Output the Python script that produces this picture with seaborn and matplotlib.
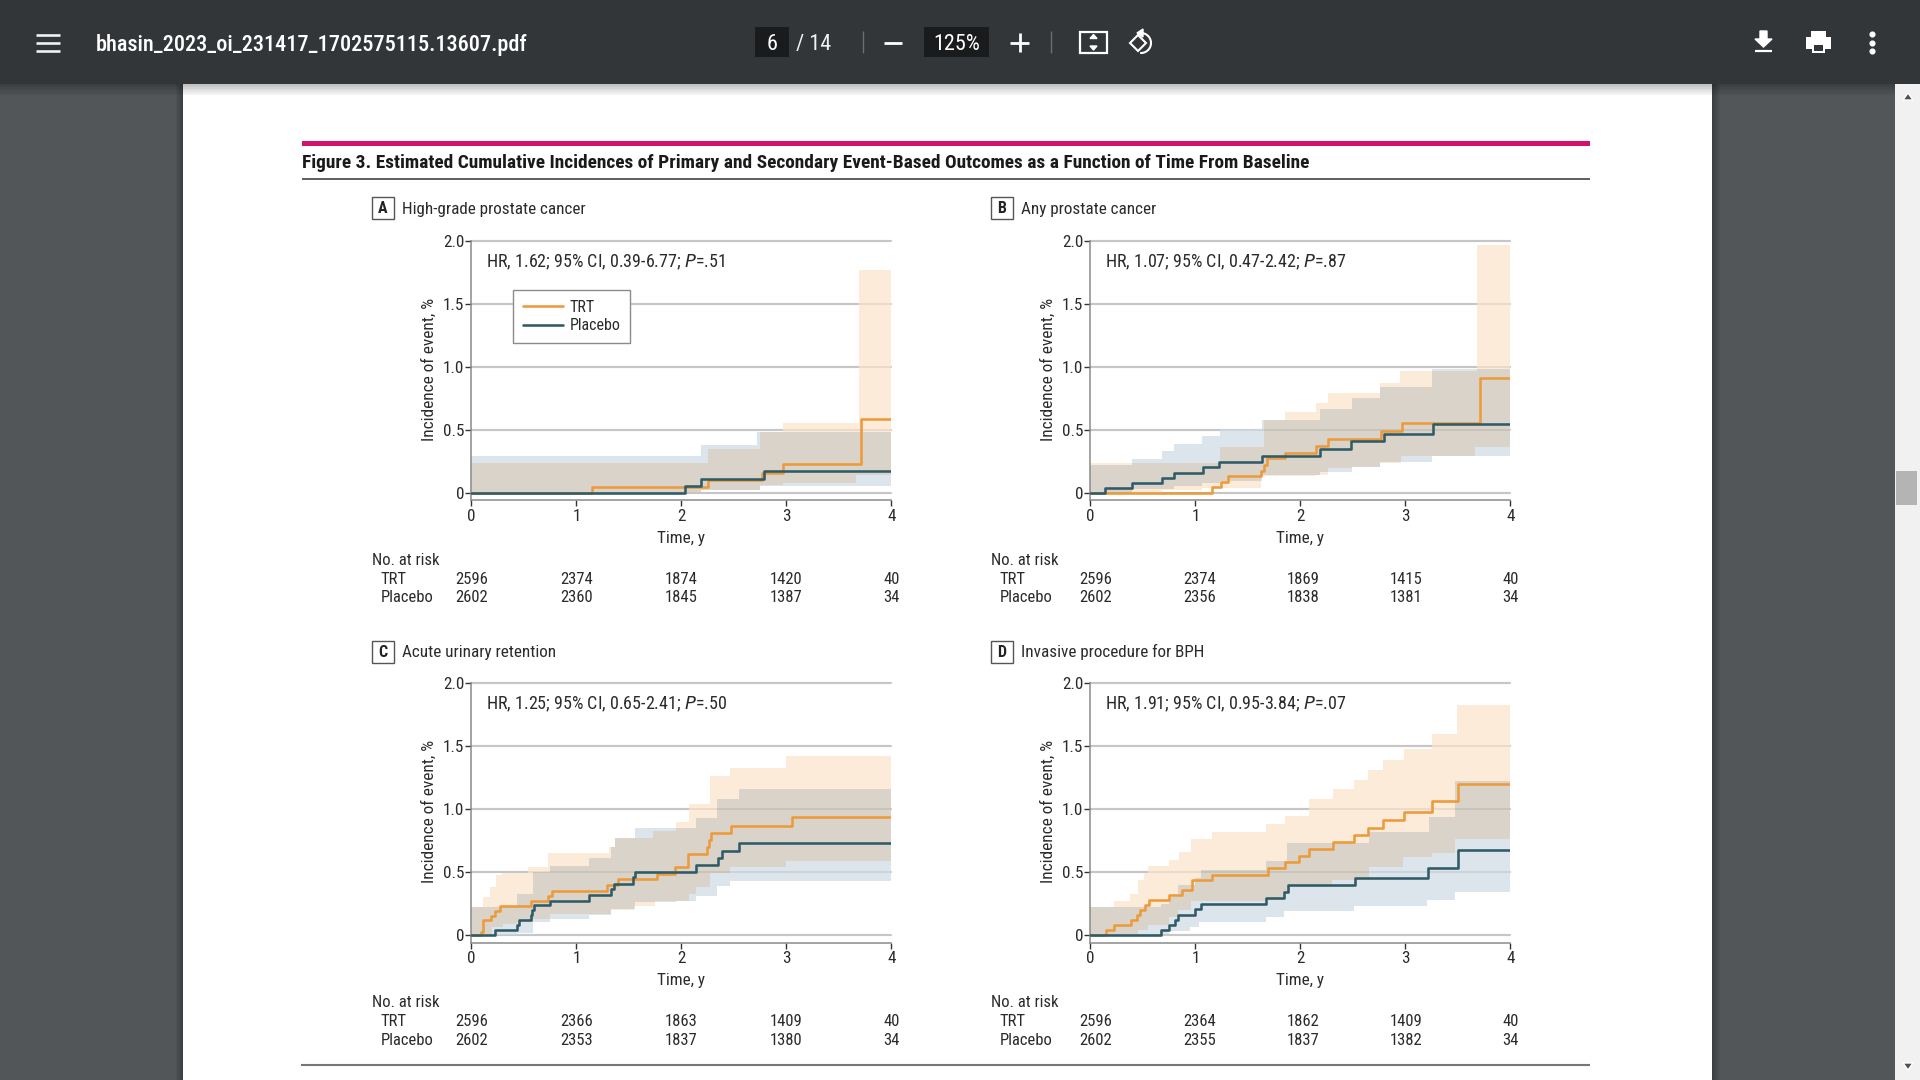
# plot.py
# Figure 3 (cumulative incidence panels) inside a PDF viewer screenshot

import numpy as np
import pandas as pd
import matplotlib
matplotlib.use("Agg")
import matplotlib.pyplot as plt
from matplotlib.patches import Rectangle, Polygon, Arc
import seaborn as sns

# ── Data: step curves (time in years, incidence in %) ──────
a_trt_t = [0, 1.15, 2.255, 2.765, 2.97, 3.71, 4]
a_trt_y = [0, 0.045, 0.10, 0.16, 0.225, 0.583, 0.583]
a_pla_t = [0, 2.035, 2.19, 2.79, 4]
a_pla_y = [0, 0.055, 0.11, 0.17, 0.17]
a_trt_up_t = [0, 2.255, 2.75, 2.97, 3.69, 4]
a_trt_up_y = [0.24, 0.345, 0.48, 0.556, 1.77, 1.77]
a_trt_lo_t = [0, 2.19, 2.75, 2.97, 3.66, 4]
a_trt_lo_y = [0, 0.02, 0.06, 0.08, 0.14, 0.14]
a_pla_up_t = [0, 2.19, 2.72, 4]
a_pla_up_y = [0.295, 0.376, 0.485, 0.485]
a_pla_lo_t = [0, 2.19, 2.75, 4]
a_pla_lo_y = [0, 0.02, 0.053, 0.053]

b_trt_t = [0, 1.16, 1.245, 1.31, 1.62, 1.655, 1.68, 1.857, 2.153, 2.26, 2.765, 2.97, 3.71, 4]
b_trt_y = [0, 0.045, 0.087, 0.132, 0.175, 0.22, 0.273, 0.318, 0.37, 0.43, 0.49, 0.556, 0.91, 0.91]
b_pla_t = [0, 0.14, 0.40, 0.684, 0.796, 1.075, 1.228, 1.63, 2.19, 2.486, 2.8, 3.26, 4]
b_pla_y = [0, 0.04, 0.08, 0.12, 0.16, 0.204, 0.244, 0.29, 0.35, 0.408, 0.466, 0.55, 0.55]
b_trt_up_t = [0, 1.23, 1.65, 1.857, 2.153, 2.26, 2.76, 2.95, 3.68, 4]
b_trt_up_y = [0.238, 0.36, 0.58, 0.638, 0.715, 0.79, 0.875, 0.97, 1.97, 1.97]
b_trt_lo_t = [0, 0.68, 1.06, 1.62, 2.15, 2.26, 2.49, 2.76, 2.96, 3.66, 4]
b_trt_lo_y = [0, 0.02, 0.035, 0.13, 0.14, 0.20, 0.207, 0.24, 0.29, 0.36, 0.36]
b_pla_up_t = [0, 0.40, 0.686, 0.80, 1.06, 1.23, 1.63, 2.19, 2.49, 2.76, 3.25, 4]
b_pla_up_y = [0.22, 0.27, 0.33, 0.39, 0.45, 0.51, 0.58, 0.665, 0.755, 0.84, 0.98, 0.98]
b_pla_lo_t = [0, 0.40, 0.80, 1.06, 1.23, 1.63, 2.19, 2.49, 2.76, 3.25, 4]
b_pla_lo_y = [0, 0.03, 0.05, 0.08, 0.095, 0.14, 0.165, 0.205, 0.245, 0.29, 0.29]

c_trt_t = [0, 0.092, 0.114, 0.187, 0.225, 0.273, 0.565, 0.733, 0.77, 1.295, 1.394, 1.77, 1.94, 2.06, 2.248, 2.265, 2.28, 2.476, 3.054, 4]
c_trt_y = [0, 0.026, 0.12, 0.15, 0.193, 0.23, 0.273, 0.313, 0.352, 0.40, 0.442, 0.485, 0.54, 0.644, 0.70, 0.755, 0.813, 0.87, 0.935, 0.935]
c_pla_t = [0, 0.225, 0.432, 0.457, 0.565, 0.58, 0.594, 0.75, 1.12, 1.33, 1.36, 1.543, 1.56, 2.143, 2.35, 2.384, 2.544, 4]
c_pla_y = [0, 0.04, 0.077, 0.12, 0.16, 0.20, 0.236, 0.27, 0.318, 0.363, 0.403, 0.458, 0.50, 0.556, 0.61, 0.67, 0.728, 0.728]
c_trt_up_t = [0, 0.11, 0.18, 0.23, 0.29, 0.54, 0.733, 1.31, 1.37, 1.73, 1.95, 2.07, 2.27, 2.466, 3.0, 4]
c_trt_up_y = [0.22, 0.305, 0.38, 0.477, 0.49, 0.543, 0.654, 0.70, 0.768, 0.83, 0.90, 1.04, 1.26, 1.33, 1.42, 1.42]
c_trt_lo_t = [0, 0.10, 0.20, 0.30, 0.43, 0.59, 0.75, 1.33, 1.55, 1.75, 2.07, 2.14, 2.27, 2.466, 3.0, 4]
c_trt_lo_y = [0, 0.01, 0.066, 0.09, 0.10, 0.13, 0.17, 0.20, 0.23, 0.27, 0.33, 0.385, 0.49, 0.538, 0.588, 0.588]
c_pla_up_t = [0, 0.43, 0.59, 0.75, 1.12, 1.33, 1.37, 1.56, 2.14, 2.34, 2.544, 4]
c_pla_up_y = [0.22, 0.33, 0.50, 0.55, 0.61, 0.70, 0.77, 0.85, 0.927, 1.08, 1.158, 1.158]
c_pla_lo_t = [0, 0.43, 0.59, 0.75, 1.12, 1.33, 1.56, 1.95, 2.14, 2.34, 2.46, 4]
c_pla_lo_y = [0, 0.015, 0.105, 0.125, 0.16, 0.21, 0.265, 0.27, 0.31, 0.39, 0.432, 0.432]

d_trt_t = [0, 0.146, 0.22, 0.387, 0.448, 0.473, 0.52, 0.56, 0.75, 0.87, 0.965, 1.156, 1.687, 1.857, 1.986, 2.085, 2.31, 2.514, 2.646, 2.786, 2.99, 3.25, 3.5, 4]
d_trt_y = [0, 0.04, 0.08, 0.12, 0.16, 0.20, 0.236, 0.278, 0.318, 0.358, 0.437, 0.48, 0.53, 0.577, 0.628, 0.68, 0.74, 0.797, 0.853, 0.914, 0.98, 1.065, 1.203, 1.203]
d_pla_t = [0, 0.673, 0.752, 0.806, 0.83, 0.997, 1.054, 1.673, 1.84, 1.884, 2.52, 3.218, 3.497, 4]
d_pla_y = [0, 0.04, 0.08, 0.12, 0.16, 0.204, 0.246, 0.297, 0.344, 0.395, 0.456, 0.53, 0.675, 0.675]
d_trt_up_t = [0, 0.22, 0.38, 0.45, 0.51, 0.553, 0.745, 0.84, 0.96, 1.156, 1.67, 1.857, 2.08, 2.31, 2.514, 2.646, 2.786, 2.99, 3.25, 3.49, 4]
d_trt_up_y = [0.22, 0.27, 0.33, 0.437, 0.495, 0.55, 0.596, 0.66, 0.76, 0.82, 0.88, 0.945, 1.08, 1.16, 1.232, 1.31, 1.39, 1.478, 1.60, 1.825, 1.825]
d_trt_lo_t = [0, 0.38, 0.45, 0.55, 0.75, 0.83, 0.96, 1.67, 1.84, 1.90, 2.30, 2.65, 2.98, 3.25, 3.47, 4]
d_trt_lo_y = [0, 0.0, 0.04, 0.08, 0.14, 0.20, 0.27, 0.28, 0.33, 0.38, 0.44, 0.538, 0.62, 0.65, 0.763, 0.763]
d_pla_up_t = [0, 0.67, 0.75, 0.83, 1.0, 1.05, 1.67, 1.875, 2.65, 3.22, 3.47, 4]
d_pla_up_y = [0.22, 0.25, 0.30, 0.40, 0.45, 0.515, 0.59, 0.73, 0.816, 0.94, 1.227, 1.227]
d_pla_lo_t = [0, 0.67, 0.75, 0.95, 1.03, 1.67, 1.84, 2.51, 3.21, 3.47, 4]
d_pla_lo_y = [0, 0.01, 0.03, 0.066, 0.10, 0.146, 0.193, 0.233, 0.278, 0.344, 0.344]

# ── Data: labels ───────────────────────────────────────────
panel_letters = ["A", "B", "C", "D"]
panel_titles = ["High-grade prostate cancer", "Any prostate cancer",
                "Acute urinary retention", "Invasive procedure for BPH"]
hr_texts = ["HR, 1.62; 95% CI, 0.39-6.77; $\\mathit{P}$=.51",
            "HR, 1.07; 95% CI, 0.47-2.42; $\\mathit{P}$=.87",
            "HR, 1.25; 95% CI, 0.65-2.41; $\\mathit{P}$=.50",
            "HR, 1.91; 95% CI, 0.95-3.84; $\\mathit{P}$=.07"]
risk_trt = [["2596", "2374", "1874", "1420", "40"],
            ["2596", "2374", "1869", "1415", "40"],
            ["2596", "2366", "1863", "1409", "40"],
            ["2596", "2364", "1862", "1409", "40"]]
risk_pla = [["2602", "2360", "1845", "1387", "34"],
            ["2602", "2356", "1838", "1381", "34"],
            ["2602", "2353", "1837", "1380", "34"],
            ["2602", "2355", "1837", "1382", "34"]]
x_ticks = [0, 1, 2, 3, 4]
y_ticks = [0, 0.5, 1.0, 1.5, 2.0]
y_tick_labels = ["0", "0.5", "1.0", "1.5", "2.0"]
figure_title = "Figure 3. Estimated Cumulative Incidences of Primary and Secondary Event-Based Outcomes as a Function of Time From Baseline"
file_name = "bhasin_2023_oi_231417_1702575115.13607.pdf"

curves = {
    "A": [(a_trt_t, a_trt_y), (a_pla_t, a_pla_y), (a_trt_up_t, a_trt_up_y), (a_trt_lo_t, a_trt_lo_y), (a_pla_up_t, a_pla_up_y), (a_pla_lo_t, a_pla_lo_y)],
    "B": [(b_trt_t, b_trt_y), (b_pla_t, b_pla_y), (b_trt_up_t, b_trt_up_y), (b_trt_lo_t, b_trt_lo_y), (b_pla_up_t, b_pla_up_y), (b_pla_lo_t, b_pla_lo_y)],
    "C": [(c_trt_t, c_trt_y), (c_pla_t, c_pla_y), (c_trt_up_t, c_trt_up_y), (c_trt_lo_t, c_trt_lo_y), (c_pla_up_t, c_pla_up_y), (c_pla_lo_t, c_pla_lo_y)],
    "D": [(d_trt_t, d_trt_y), (d_pla_t, d_pla_y), (d_trt_up_t, d_trt_up_y), (d_trt_lo_t, d_trt_lo_y), (d_pla_up_t, d_pla_up_y), (d_pla_lo_t, d_pla_lo_y)],
}

# ── Colours ────────────────────────────────────────────────
TRT = "#EC9A3A"
PLACEBO = "#2F5B66"
TRT_BAND = "#FDEBDA"
PLACEBO_BAND = "#DBE5EB"
BOTH_BAND = "#D9D3C9"
TEXT = "#2b2b2b"
GRID = "#d6d6d6"
VIEWER = "#525659"
BAR = "#323639"

# ── Pixel layout of the screenshot ─────────────────────────
W, H = 1920, 1080
COL_X = [471.4, 1090.4]
ROW_Y = [241.0, 683.3]
AX_W, AX_H = 420.0, 259.3   # y=2.0 down to the x axis line
Y_BOTTOM = -0.06

sns.set_theme(style="white")
FONT = ["Liberation Sans Narrow", "Roboto Condensed", "Liberation Sans"]
plt.rcParams["font.family"] = FONT
plt.rcParams["mathtext.fontset"] = "custom"
plt.rcParams["mathtext.rm"] = "Liberation Sans Narrow"
plt.rcParams["mathtext.it"] = "Liberation Sans Narrow:italic"
plt.rcParams["mathtext.bf"] = "Liberation Sans Narrow:bold"
plt.rcParams["text.color"] = TEXT

fig = plt.figure(figsize=(W / 100, H / 100), dpi=100, facecolor=VIEWER)

# ── Background axes in screen pixels ───────────────────────
bg = fig.add_axes([0, 0, 1, 1], zorder=0)
bg.set_xlim(0, W)
bg.set_ylim(H, 0)
bg.axis("off")


def rect(x0, y0, x1, y1, **kw):
    kw.setdefault("linewidth", 0)
    bg.add_patch(Rectangle((x0, y0), x1 - x0, y1 - y0, **kw))


def seg(xs, ys, color, lw):
    bg.plot(xs, ys, color=color, lw=lw, solid_capstyle="butt", solid_joinstyle="miter")


# page, page shadow, scrollbar
rect(0, 0, W, H, facecolor=VIEWER)
for i in range(6):
    rect(183 - i * 1.5, 84, 183, H, facecolor="black", alpha=0.05)
    rect(1712, 84, 1712 + i * 1.5, H, facecolor="black", alpha=0.05)
rect(183, 84, 1712, H, facecolor="white")
rect(1895, 84, W, H, facecolor="#f1f1f1")
rect(1896, 471, 1917, 505, facecolor="#b4b4b4")
bg.add_patch(Polygon([[1903, 100], [1913, 100], [1908, 93]], facecolor="#505050"))
bg.add_patch(Polygon([[1903, 1063], [1913, 1063], [1908, 1070]], facecolor="#505050"))

# toolbar + its shadow
for i in range(7):
    rect(0, 84, 1895, 84 + (i + 1) * 1.6, facecolor="black", alpha=0.035)
rect(0, 0, W, 84, facecolor=BAR)
for y in (34.5, 42.5, 50.5):
    seg([36, 60], [y, y], "#f1f1f1", 1.9)
bg.text(96, 45, file_name, color="white", fontsize=16, ha="left", va="center", fontweight="medium")
rect(755, 27, 789, 57, facecolor="#191b1c")
bg.text(772, 44, "6", color="white", fontsize=16, ha="center", va="center")
bg.text(796, 44.5, "/ 14", color="#f1f1f1", fontsize=16, ha="left", va="center")
seg([863, 863], [31, 53], "#6b6e71", 1.0)
seg([884, 902], [42.5, 42.5], "white", 2.0)
rect(924, 27, 989, 57, facecolor="#191b1c")
bg.text(957, 45, "125%", color="white", fontsize=16, ha="center", va="center")
seg([1010, 1029], [42.5, 42.5], "white", 2.0)
seg([1019.5, 1019.5], [33, 52], "white", 2.0)
seg([1050.5, 1050.5], [31, 53], "#6b6e71", 1.0)
# fit-to-page icon
bg.add_patch(Rectangle((1080, 31.5), 27, 21.5, fill=False, edgecolor="white", linewidth=1.6))
bg.add_patch(Polygon([[1090, 38.5], [1097, 38.5], [1093.5, 34.5]], facecolor="white"))
bg.add_patch(Polygon([[1090, 46], [1097, 46], [1093.5, 50]], facecolor="white"))
# rotate icon
bg.add_patch(Polygon([[1130, 43], [1138, 35], [1146, 43], [1138, 51]], fill=False, edgecolor="white", linewidth=1.5))
bg.add_patch(Arc((1141, 43), 20, 20, theta1=-110, theta2=95, edgecolor="white", linewidth=1.5))
bg.add_patch(Polygon([[1143, 29], [1137, 33], [1143, 37]], facecolor="white"))
# download icon
bg.add_patch(Polygon([[1760, 31], [1767, 31], [1767, 39], [1772, 39], [1763.5, 47], [1755, 39], [1760, 39]], facecolor="white"))
seg([1755, 1772], [51, 51], "white", 1.6)
# print icon
rect(1811, 31, 1826, 37, facecolor="white")
rect(1806, 37, 1831, 49, facecolor="white")
rect(1812, 44, 1825, 53, facecolor="white")
rect(1814, 45, 1823, 51, facecolor=BAR)
# menu dots
for y in (34, 42.5, 50.5):
    bg.plot([1872], [y], "o", color="white", markersize=3.4)

# figure heading
rect(302, 141, 1590, 145.5, facecolor="#D5126A")
bg.text(302, 162.5, figure_title, fontsize=13.95, fontweight="bold", ha="left", va="center", color="#1a1a1a")
seg([302, 1590], [179, 179], "#333333", 1.1)
seg([301, 1590], [1065, 1065], "#777777", 1.5)


def step_at(t, y, grid):
    idx = np.searchsorted(t, grid, side="right") - 1
    return np.asarray(y)[np.clip(idx, 0, len(y) - 1)]


def draw_panel(i):
    letter = panel_letters[i]
    (tt, ty), (pt, py), (tut, tuy), (tlt, tly), (put, puy), (plt_, ply) = curves[letter]
    col, row = i % 2, i // 2
    x0, y0 = COL_X[col], ROW_Y[row]

    ax = fig.add_axes([x0 / W, 1 - (y0 + AX_H) / H, AX_W / W, AX_H / H], zorder=2)
    ax.patch.set_alpha(0)

    # confidence bands, the overlap gets its own darker tone
    grid = np.array(sorted(set(tut) | set(tlt) | set(put) | set(plt_)))
    tu, tl = step_at(tut, tuy, grid), step_at(tlt, tly, grid)
    pu, pl = step_at(put, puy, grid), step_at(plt_, ply, grid)
    ax.fill_between(grid, pl, pu, step="post", color=PLACEBO_BAND, lw=0, zorder=1)
    ax.fill_between(grid, tl, tu, step="post", color=TRT_BAND, lw=0, zorder=1.1)
    lo, up = np.maximum(tl, pl), np.minimum(tu, pu)
    ax.fill_between(grid, lo, np.maximum(lo, up), step="post", color=BOTH_BAND, lw=0, zorder=1.2)

    for v in y_ticks:
        ax.axhline(v, color=GRID, lw=1.6, zorder=0.5, clip_on=False)
        ax.axhline(v, color="black", alpha=0.08, lw=1.3, zorder=1.5, clip_on=False)

    df = pd.concat([
        pd.DataFrame({"time": tt, "incidence": ty, "arm": "TRT"}),
        pd.DataFrame({"time": pt, "incidence": py, "arm": "Placebo"}),
    ])
    sns.lineplot(data=df, x="time", y="incidence", hue="arm", hue_order=["TRT", "Placebo"],
                 palette={"TRT": TRT, "Placebo": PLACEBO}, estimator=None, sort=False,
                 drawstyle="steps-post", linewidth=1.85, zorder=3, ax=ax,
                 legend=(letter == "A"))

    ax.set_xlim(0, 4)
    ax.set_ylim(Y_BOTTOM, 2.0)
    ax.set_xticks(x_ticks)
    ax.set_yticks(y_ticks)
    ax.set_yticklabels(y_tick_labels)
    ax.set_xlabel("")
    ax.set_ylabel("")
    ax.tick_params(axis="both", direction="out", left=True, bottom=True, length=4, width=1,
                   color="#333333", labelsize=12.3, labelcolor=TEXT, pad=1.2)
    ax.tick_params(axis="x", pad=2.4)
    sns.despine(ax=ax)
    for side in ("left", "bottom"):
        ax.spines[side].set_color("#8a8a8a")
        ax.spines[side].set_linewidth(1.1)

    if letter == "A":
        handles, labels = ax.get_legend_handles_labels()
        ax.legend(handles, labels, loc="upper left", bbox_to_anchor=((512.6 - x0) / AX_W, 1 - (290 - y0) / AX_H),
                  borderaxespad=0, fontsize=11.5, handlelength=2.55, handletextpad=0.4, borderpad=0.62,
                  labelspacing=0.2, frameon=True, fancybox=False, framealpha=1, edgecolor="#8a8a8a")
        ax.get_legend().get_frame().set_linewidth(1.0)
        ax.get_legend().set_zorder(4)

    # texts placed in screen pixels
    off_x = 372 if col == 0 else 991
    box_y = y0 - 44 if row == 0 else y0 - 42.6
    title_y = box_y + 12.7 if row == 0 else box_y + 11.5
    rect(off_x, box_y, off_x + 21.5, box_y + 22, facecolor="white", edgecolor="#555555", linewidth=1.0)
    bg.text(off_x + 10.8, box_y + 11.5, letter, fontsize=11.5, fontweight="bold", ha="center", va="center", color="#222222")
    bg.text(off_x + 30.3, title_y, panel_titles[i], fontsize=12.3, ha="left", va="center")
    bg.text(x0 + 14.5, y0 + 21, hr_texts[i], fontsize=13, ha="left", va="center")
    bg.text(x0 + AX_W / 2, y0 + 297.5, "Time, y", fontsize=12.3, ha="center", va="center")
    bg.text(x0 - 42.5, y0 + 128, "Incidence of event, %", fontsize=12.4, rotation=90, ha="center", va="center")
    bg.text(off_x, y0 + 319.5, "No. at risk", fontsize=12, ha="left", va="center")
    bg.text(off_x + 8.5, y0 + 338.7, "TRT", fontsize=12, ha="left", va="center")
    bg.text(off_x + 8.5, y0 + 357, "Placebo", fontsize=12, ha="left", va="center")
    shift = [0, 0, 0, 0, 0] if col == 0 else [5, 4, 2.5, 1, 0]
    for k, t in enumerate(x_ticks):
        xp = x0 + t * AX_W / 4 + shift[k]
        bg.text(xp, y0 + 338.7, risk_trt[i][k], fontsize=12, ha="center", va="center")
        bg.text(xp, y0 + 357, risk_pla[i][k], fontsize=12, ha="center", va="center")


for i in range(4):
    draw_panel(i)

fig.savefig("out.png", dpi=100, facecolor=fig.get_facecolor())
